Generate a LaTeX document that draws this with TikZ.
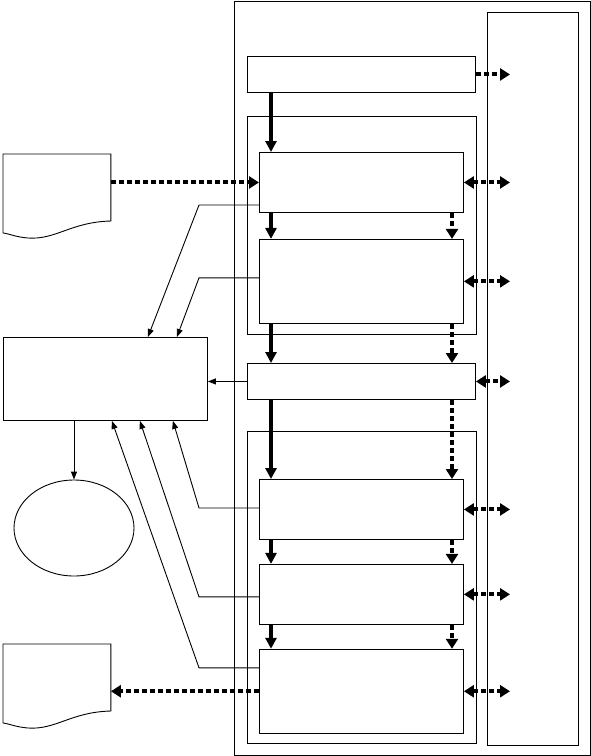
\documentclass[tikz,border=0pt]{standalone}
\usetikzlibrary{positioning,arrows.meta,shapes.geometric}

% page with a torn lower edge, drawn over an empty node
\newcommand{\docpage}[1]{%
  \draw (#1.north west) -- (#1.north east) -- ([yshift=-67pt]#1.north east)
    .. controls ([shift={(-40pt,-68pt)}]#1.north east) and ([shift={(-55pt,-86pt)}]#1.north east)
    .. ([shift={(-83pt,-84pt)}]#1.north east)
    .. controls ([shift={(-95pt,-83pt)}]#1.north east) and ([shift={(-101pt,-80pt)}]#1.north east)
    .. ([yshift=6pt]#1.south west) -- cycle;}

\begin{document}
\begin{tikzpicture}[x=1pt, y=-1pt, line width=0.9pt,
  frame/.style={draw, rectangle, inner sep=0pt, anchor=north west},
  box/.style={frame, minimum width=204pt},
  bar/.style={frame, minimum width=228pt, minimum height=36pt},
  flow/.style={line width=4pt, -{Triangle[length=11pt,width=11pt]}},
  data/.style={line width=4pt, dash pattern=on 5pt off 3pt, -{Triangle[length=10pt,width=12pt]}},
  both/.style={data, {Triangle[length=10pt,width=12pt]}-{Triangle[length=10pt,width=12pt]}},
  link/.style={-{Triangle[length=8pt,width=6pt]}},
  tap/.style={to path={-- (\tikztostart -| bx) -- (\tikztotarget)}}]
  \useasboundingbox (0,0) rectangle (591,756);

  % system frame and side column
  \node[frame, minimum width=356pt, minimum height=754pt] (sys) at (234,1) {};
  \node[frame, minimum width=91pt, minimum height=733pt] (col) at (487,12) {};

  % upper stage
  \node[bar] (init) at (247,56) {};
  \node[frame, minimum width=229pt, minimum height=218pt] (grp1) at (247,116) {};
  \node[box, minimum height=60pt] (stepA) at (259,152) {};
  \node[box, minimum height=84pt] (stepB) [below=26pt of stepA] {};
  \node[bar] (merge) at (247,363) {};

  % lower stage
  \node[frame, minimum width=229pt, minimum height=312pt] (grp2) at (247,431) {};
  \node[box, minimum height=60pt] (stepC) at (259,479) {};
  \node[box, minimum height=60pt] (stepD) [below=24pt of stepC] {};
  \node[box, minimum height=84pt] (stepE) [below=24pt of stepD] {};

  % outside
  \node[frame, minimum width=204pt, minimum height=83pt] (store) at (3,337) {};
  \node[draw, ellipse, minimum width=120pt, minimum height=96pt] (db) at (74,528) {};
  \node[frame, draw=none, minimum width=107pt, minimum height=84pt] (src) at (3,154) {};
  \node[frame, draw=none, minimum width=107pt, minimum height=84pt] (out) at (3,644) {};
  \docpage{src}
  \docpage{out}

  \coordinate (sx) at (271,0);
  \coordinate (dx) at (452,0);
  \coordinate (ex) at (510,0);
  \coordinate (bx) at (199,0);

  \path[flow]
    (init.south -| sx) edge (stepA.north -| sx)
    (stepA.south -| sx) edge (stepB.north -| sx)
    (stepB.south -| sx) edge (merge.north -| sx)
    (merge.south -| sx) edge (stepC.north -| sx)
    (stepC.south -| sx) edge (stepD.north -| sx)
    (stepD.south -| sx) edge (stepE.north -| sx);
  \path[data]
    (stepA.south -| dx) edge (stepB.north -| dx)
    (stepB.south -| dx) edge (merge.north -| dx)
    (merge.south -| dx) edge (stepC.north -| dx)
    (stepC.south -| dx) edge (stepD.north -| dx)
    (stepD.south -| dx) edge (stepE.north -| dx)
    (init.east) edge (init.east -| ex)
    (src.east |- stepA.west) edge (stepA.west)
    (stepE.west) edge (stepE.west -| out.east);
  \path[both]
    (stepA.east) edge (stepA.east -| ex)
    (stepB.east) edge (stepB.east -| ex)
    (merge.east) edge (merge.east -| ex)
    (stepC.east) edge (stepC.east -| ex)
    (stepD.east) edge (stepD.east -| ex)
    (stepE.east) edge (stepE.east -| ex);
  \path[link]
    (merge.west) edge (merge.west -| store.east)
    (db.north |- store.south) edge (db.north)
    ([yshift=-53pt]stepA.north west) edge[tap] ([xshift=-60pt]store.north east)
    ([yshift=-39pt]stepB.north west) edge[tap] ([xshift=-31pt]store.north east)
    ([yshift=-29pt]stepC.north west) edge[tap] ([xshift=-35pt]store.south east)
    ([yshift=-33pt]stepD.north west) edge[tap] ([xshift=-68pt]store.south east)
    ([yshift=-19pt]stepE.north west) edge[tap] ([xshift=-96pt]store.south east);
\end{tikzpicture}
\end{document}
